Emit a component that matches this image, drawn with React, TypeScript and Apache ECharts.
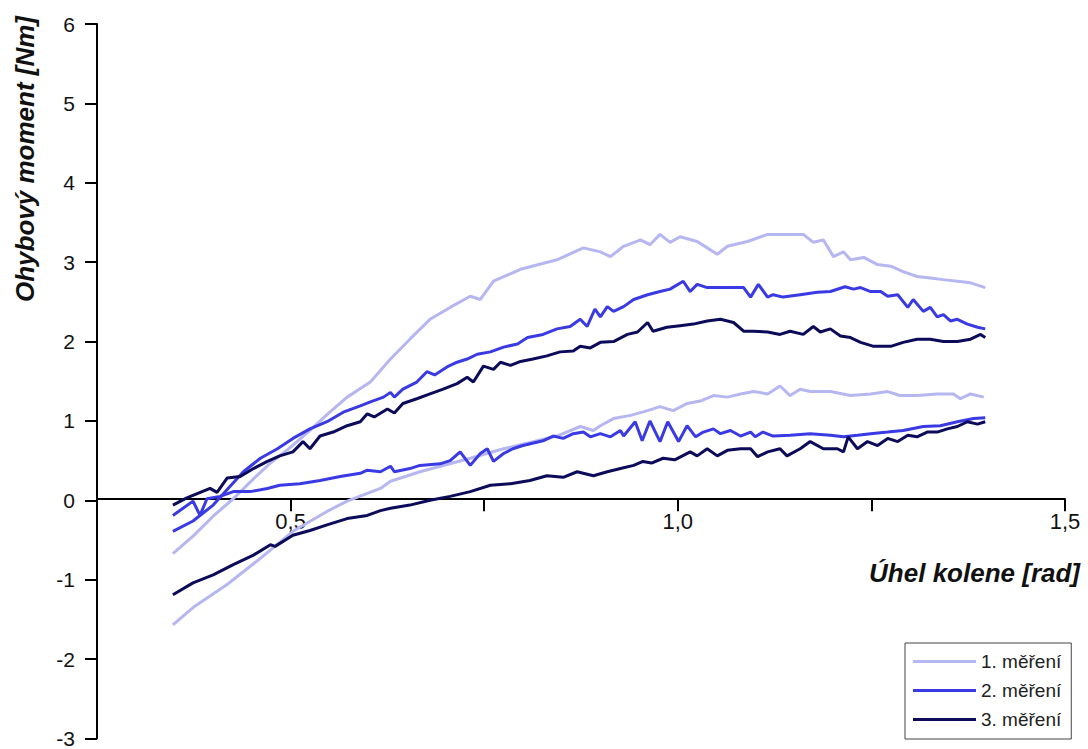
import React, { useEffect, useRef } from "react";
import * as echarts from "echarts";

const seriesNames = ["1. měření", "2. měření", "3. měření"];
const seriesColors = ["#b6b6f0", "#3a3ae4", "#0b0b5a"];

const xTicks = { min: 0.25, max: 1.5, interval: 0.25 };
const yTicks = { min: -3, max: 6, interval: 1 };

const m1Upper = [[0.348,-0.67],[0.374,-0.45],[0.400,-0.20],[0.426,0.02],[0.452,0.27],[0.474,0.47],[0.499,0.66],[0.525,0.88],[0.547,1.08],[0.573,1.30],[0.603,1.49],[0.629,1.78],[0.654,2.03],[0.680,2.28],[0.706,2.43],[0.732,2.57],[0.745,2.53],[0.762,2.76],[0.797,2.91],[0.844,3.03],[0.878,3.18],[0.900,3.13],[0.913,3.07],[0.930,3.20],[0.952,3.28],[0.964,3.22],[0.977,3.35],[0.990,3.25],[1.003,3.32],[1.025,3.26],[1.038,3.18],[1.051,3.10],[1.064,3.20],[1.090,3.26],[1.116,3.35],[1.145,3.35],[1.162,3.35],[1.175,3.25],[1.188,3.28],[1.201,3.07],[1.214,3.13],[1.223,3.03],[1.240,3.06],[1.258,2.97],[1.275,2.95],[1.291,2.88],[1.309,2.82],[1.326,2.80],[1.343,2.78],[1.361,2.76],[1.378,2.74],[1.397,2.68]];
const m1Lower = [[0.348,-1.57],[0.374,-1.35],[0.418,-1.06],[0.461,-0.73],[0.503,-0.39],[0.547,-0.14],[0.573,-0.01],[0.616,0.15],[0.629,0.24],[0.667,0.36],[0.732,0.53],[0.775,0.65],[0.844,0.81],[0.874,0.93],[0.891,0.88],[0.900,0.94],[0.917,1.03],[0.939,1.07],[0.961,1.13],[0.977,1.18],[0.994,1.13],[1.012,1.22],[1.029,1.25],[1.046,1.32],[1.064,1.30],[1.081,1.34],[1.098,1.37],[1.116,1.34],[1.132,1.44],[1.145,1.32],[1.158,1.40],[1.171,1.37],[1.197,1.37],[1.223,1.32],[1.249,1.34],[1.271,1.37],[1.287,1.32],[1.309,1.32],[1.335,1.34],[1.356,1.34],[1.365,1.28],[1.378,1.34],[1.395,1.30]];

const m2Upper = [[0.348,-0.39],[0.374,-0.26],[0.400,-0.06],[0.439,0.36],[0.461,0.53],[0.483,0.65],[0.503,0.78],[0.525,0.90],[0.547,0.99],[0.568,1.11],[0.590,1.19],[0.603,1.24],[0.620,1.30],[0.629,1.36],[0.634,1.30],[0.645,1.40],[0.663,1.49],[0.676,1.62],[0.686,1.58],[0.702,1.68],[0.715,1.74],[0.728,1.78],[0.741,1.84],[0.758,1.87],[0.775,1.93],[0.793,1.97],[0.806,2.05],[0.826,2.09],[0.844,2.16],[0.861,2.19],[0.874,2.28],[0.883,2.19],[0.893,2.41],[0.900,2.31],[0.909,2.44],[0.917,2.38],[0.930,2.44],[0.943,2.53],[0.961,2.59],[0.977,2.63],[0.990,2.66],[1.007,2.76],[1.016,2.63],[1.025,2.72],[1.038,2.68],[1.055,2.68],[1.072,2.68],[1.085,2.68],[1.094,2.56],[1.104,2.72],[1.116,2.56],[1.123,2.59],[1.136,2.56],[1.158,2.59],[1.180,2.62],[1.197,2.63],[1.216,2.69],[1.227,2.66],[1.236,2.68],[1.249,2.63],[1.262,2.63],[1.271,2.57],[1.284,2.59],[1.297,2.43],[1.304,2.53],[1.317,2.38],[1.326,2.43],[1.335,2.31],[1.343,2.34],[1.352,2.26],[1.361,2.28],[1.374,2.22],[1.387,2.18],[1.397,2.16]];
const m2Lower = [[0.348,-0.19],[0.374,-0.01],[0.383,-0.19],[0.392,0.02],[0.409,0.05],[0.426,0.11],[0.448,0.11],[0.470,0.15],[0.486,0.19],[0.512,0.21],[0.538,0.25],[0.564,0.30],[0.590,0.34],[0.599,0.38],[0.616,0.36],[0.629,0.43],[0.634,0.36],[0.654,0.40],[0.667,0.44],[0.693,0.46],[0.706,0.50],[0.719,0.61],[0.732,0.44],[0.745,0.59],[0.754,0.65],[0.762,0.49],[0.775,0.59],[0.787,0.65],[0.800,0.69],[0.826,0.75],[0.839,0.81],[0.852,0.78],[0.865,0.84],[0.878,0.86],[0.887,0.80],[0.900,0.84],[0.913,0.80],[0.926,0.88],[0.930,0.81],[0.945,0.99],[0.954,0.75],[0.964,1.00],[0.977,0.74],[0.987,0.99],[1.001,0.74],[1.012,0.94],[1.023,0.80],[1.033,0.86],[1.046,0.90],[1.055,0.84],[1.068,0.88],[1.081,0.81],[1.094,0.86],[1.100,0.80],[1.110,0.86],[1.123,0.81],[1.145,0.82],[1.171,0.84],[1.197,0.82],[1.214,0.80],[1.232,0.82],[1.249,0.84],[1.271,0.86],[1.291,0.88],[1.317,0.93],[1.339,0.94],[1.361,0.99],[1.382,1.03],[1.397,1.04]];

const m3Upper = [[0.348,-0.06],[0.366,0.03],[0.396,0.15],[0.405,0.10],[0.418,0.28],[0.435,0.30],[0.452,0.40],[0.470,0.49],[0.486,0.56],[0.503,0.61],[0.516,0.74],[0.525,0.65],[0.538,0.81],[0.555,0.86],[0.573,0.94],[0.590,0.99],[0.599,1.09],[0.608,1.05],[0.625,1.15],[0.634,1.10],[0.645,1.22],[0.663,1.28],[0.680,1.34],[0.697,1.40],[0.715,1.47],[0.728,1.55],[0.736,1.49],[0.749,1.69],[0.762,1.65],[0.771,1.74],[0.784,1.70],[0.797,1.75],[0.813,1.78],[0.831,1.82],[0.848,1.87],[0.865,1.88],[0.874,1.94],[0.887,1.92],[0.900,1.99],[0.917,2.00],[0.935,2.09],[0.948,2.12],[0.961,2.24],[0.968,2.13],[0.986,2.18],[1.003,2.20],[1.020,2.22],[1.038,2.26],[1.055,2.28],[1.072,2.24],[1.085,2.13],[1.098,2.13],[1.116,2.12],[1.132,2.09],[1.145,2.13],[1.162,2.09],[1.175,2.19],[1.184,2.12],[1.197,2.16],[1.210,2.07],[1.223,2.05],[1.236,1.99],[1.253,1.94],[1.275,1.94],[1.291,1.99],[1.309,2.03],[1.326,2.03],[1.343,2.00],[1.361,2.00],[1.378,2.03],[1.391,2.09],[1.397,2.05]];
const m3Lower = [[0.348,-1.19],[0.374,-1.04],[0.400,-0.94],[0.426,-0.81],[0.452,-0.69],[0.474,-0.56],[0.480,-0.58],[0.503,-0.44],[0.525,-0.38],[0.547,-0.31],[0.573,-0.23],[0.599,-0.19],[0.616,-0.13],[0.629,-0.10],[0.654,-0.06],[0.680,0.00],[0.706,0.05],[0.732,0.11],[0.758,0.19],[0.784,0.21],[0.809,0.25],[0.831,0.31],[0.852,0.29],[0.870,0.36],[0.891,0.31],[0.909,0.36],[0.926,0.40],[0.943,0.44],[0.955,0.49],[0.966,0.47],[0.981,0.53],[0.996,0.51],[1.016,0.61],[1.025,0.56],[1.038,0.65],[1.051,0.56],[1.064,0.63],[1.081,0.65],[1.094,0.65],[1.103,0.55],[1.116,0.61],[1.132,0.65],[1.141,0.56],[1.158,0.65],[1.171,0.74],[1.188,0.65],[1.206,0.65],[1.214,0.61],[1.220,0.80],[1.232,0.65],[1.245,0.74],[1.258,0.69],[1.271,0.78],[1.284,0.74],[1.297,0.82],[1.309,0.80],[1.322,0.86],[1.335,0.86],[1.348,0.90],[1.361,0.93],[1.374,0.99],[1.387,0.96],[1.397,0.99]];

const branches = [
  [m1Upper, m1Lower],
  [m2Upper, m2Lower],
  [m3Upper, m3Lower],
];

const xTitle = "Úhel kolene [rad]";
const yTitle = "Ohybový moment [Nm]";

const FONT = '"Liberation Sans", Arial, Helvetica, sans-serif';

const GRID = { left: 97, right: 23, top: 24, bottom: 7 };
const CHART_H = 749;

export default function App() {
  const ref = useRef<HTMLDivElement>(null);
  useEffect(() => {
    if (!ref.current) return;
    const chart = echarts.init(ref.current, null, { renderer: "svg" });
    const series: any[] = [];
    branches.forEach((pair, i) => {
      pair.forEach((data) => {
        series.push({
          name: seriesNames[i],
          type: "line",
          data,
          symbol: "none",
          showSymbol: false,
          smooth: false,
          lineStyle: { color: seriesColors[i], width: 3 },
          itemStyle: { color: seriesColors[i] },
        });
      });
    });
    // place the x axis at y = 0 (axis crosses there)
    const gridH = CHART_H - GRID.top - GRID.bottom;
    const zeroOffset = -(gridH * (0 - yTicks.min)) / (yTicks.max - yTicks.min);
    chart.setOption({
      animation: false,
      backgroundColor: "#ffffff",
      grid: { ...GRID, containLabel: false },
      xAxis: {
        type: "value",
        position: "bottom",
        offset: zeroOffset,
        min: xTicks.min,
        max: xTicks.max,
        interval: xTicks.interval,
        axisLine: { onZero: false, lineStyle: { color: "#000", width: 2 } },
        axisTick: { show: true, inside: false, length: 12, lineStyle: { color: "#000", width: 2 } },
        splitLine: { show: false },
        axisLabel: {
          margin: 11,
          color: "#111",
          fontSize: 22,
          fontFamily: FONT,
          formatter: (v: number) => {
            const d = v * 2;
            if (Math.abs(d - Math.round(d)) < 1e-6 && v > 0.3) return v.toFixed(1).replace(".", ",");
            return "";
          },
        },
      },
      yAxis: {
        type: "value",
        min: yTicks.min,
        max: yTicks.max,
        interval: yTicks.interval,
        axisLine: { show: true, onZero: false, lineStyle: { color: "#000", width: 2 } },
        axisTick: { show: true, inside: false, length: 12, lineStyle: { color: "#000", width: 2 } },
        splitLine: { show: false },
        axisLabel: { margin: 22, color: "#111", fontSize: 21, fontFamily: FONT },
      },
      legend: {
        orient: "vertical",
        left: 905,
        top: 643,
        data: seriesNames.map((n) => ({ name: n, icon: "rect" })),
        itemWidth: 63,
        itemHeight: 3,
        itemGap: 10,
        padding: [9, 10, 10, 8],
        borderColor: "#444",
        borderWidth: 1,
        textStyle: { fontSize: 19, fontFamily: FONT, color: "#222" },
      },
      graphic: [
        {
          type: "text",
          x: 25,
          y: 159,
          rotation: Math.PI / 2,
          style: {
            text: yTitle,
            textAlign: "center",
            textVerticalAlign: "middle",
            fontSize: 26,
            fontWeight: "bold",
            fontStyle: "italic",
            fontFamily: FONT,
            fill: "#111",
          },
        },
        {
          type: "text",
          x: 1080,
          y: 573,
          style: {
            text: xTitle,
            textAlign: "right",
            textVerticalAlign: "middle",
            fontSize: 26,
            fontWeight: "bold",
            fontStyle: "italic",
            fontFamily: FONT,
            fill: "#111",
          },
        },
      ],
      series,
    });
    return () => chart.dispose();
  }, []);
  return (
    <div
      ref={ref}
      style={{ position: "fixed", left: 0, top: 0, width: 1088, height: CHART_H, background: "#fff" }}
    />
  );
}
